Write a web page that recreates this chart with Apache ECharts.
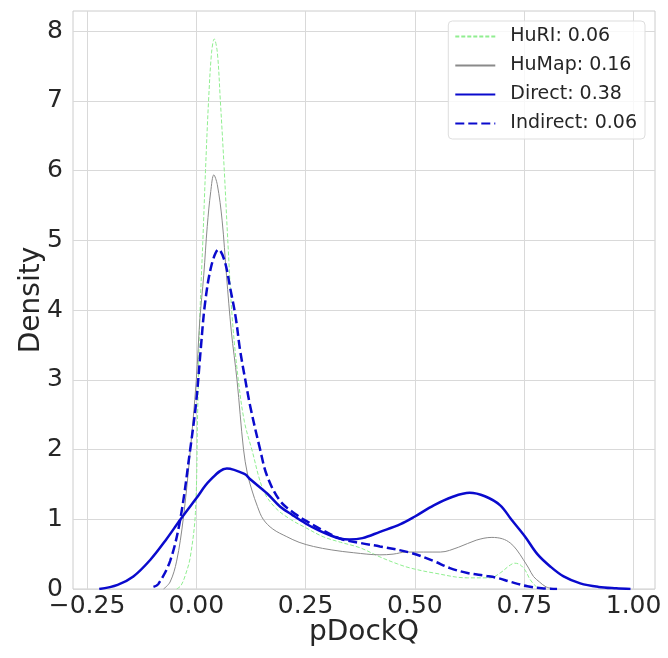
<!DOCTYPE html>
<html>
<head>
<meta charset="utf-8">
<script src="https://cdn.jsdelivr.net/npm/echarts@6/dist/echarts.min.js"></script>
<style>
  html, body { margin: 0; padding: 0; background: #fff; }
  #chart { width: 668px; height: 658px; }
</style>
</head>
<body>
<div id="chart"></div>
<script>
// KDE curves: x positions and density values
const huriX = [-0.045, -0.035, -0.025, -0.014, -0.002, 0.003, 0.008, 0.015, 0.021, 0.028, 0.035, 0.041, 0.048, 0.055, 0.064, 0.072, 0.082, 0.096, 0.11, 0.127, 0.153, 0.18, 0.215, 0.25, 0.29, 0.33, 0.375, 0.42, 0.46, 0.49, 0.543, 0.62, 0.672, 0.695, 0.715, 0.728, 0.74, 0.752, 0.764, 0.78, 0.79];
const huriY = [0, 0.05, 0.2, 0.45, 1.1, 2.5, 3.9, 5.0, 6.0, 7.0, 7.7, 7.89, 7.7, 7.0, 6.0, 5.0, 3.9, 3.0, 2.4, 2.0, 1.42, 1.17, 1.0, 0.88, 0.75, 0.67, 0.59, 0.46, 0.36, 0.3, 0.23, 0.16, 0.16, 0.23, 0.33, 0.37, 0.35, 0.27, 0.13, 0.02, 0];

const humapX = [-0.075, -0.06, -0.045, -0.03, -0.015, 0.0, 0.008, 0.017, 0.025, 0.033, 0.04, 0.048, 0.059, 0.069, 0.08, 0.093, 0.108, 0.117, 0.127, 0.14, 0.153, 0.175, 0.207, 0.235, 0.268, 0.31, 0.36, 0.42, 0.45, 0.48, 0.52, 0.558, 0.6, 0.64, 0.676, 0.7, 0.718, 0.733, 0.748, 0.76, 0.771, 0.785, 0.8, 0.82];
const humapY = [0, 0.1, 0.4, 1.0, 1.9, 3.0, 3.86, 4.5, 5.2, 5.7, 5.94, 5.8, 5.29, 4.5, 3.7, 3.0, 2.0, 1.65, 1.42, 1.18, 1.0, 0.86, 0.75, 0.67, 0.61, 0.56, 0.52, 0.49, 0.5, 0.53, 0.53, 0.53, 0.6, 0.7, 0.74, 0.72, 0.66, 0.56, 0.42, 0.3, 0.18, 0.1, 0.03, 0];

const directX = [-0.222, -0.18, -0.144, -0.105, -0.07, -0.036, 0.0, 0.03, 0.07, 0.11, 0.124, 0.162, 0.192, 0.22, 0.25, 0.28, 0.306, 0.33, 0.35, 0.38, 0.42, 0.467, 0.5, 0.543, 0.585, 0.625, 0.66, 0.695, 0.72, 0.752, 0.78, 0.81, 0.84, 0.878, 0.92, 0.96, 0.993];
const directY = [0, 0.06, 0.18, 0.42, 0.7, 1.0, 1.3, 1.55, 1.73, 1.65, 1.57, 1.37, 1.18, 1.06, 0.94, 0.84, 0.77, 0.72, 0.71, 0.73, 0.82, 0.93, 1.04, 1.2, 1.32, 1.38, 1.33, 1.2, 1.0, 0.75, 0.5, 0.32, 0.18, 0.08, 0.03, 0.01, 0];

const indirectX = [-0.098, -0.087, -0.06, -0.037, -0.014, 0.0, 0.01, 0.02, 0.035, 0.051, 0.065, 0.078, 0.09, 0.1, 0.112, 0.124, 0.146, 0.162, 0.192, 0.23, 0.25, 0.284, 0.33, 0.375, 0.42, 0.49, 0.543, 0.58, 0.62, 0.66, 0.688, 0.72, 0.757, 0.79, 0.825];
const indirectY = [0.03, 0.07, 0.4, 0.99, 2.0, 2.7, 3.43, 4.1, 4.65, 4.87, 4.7, 4.3, 3.9, 3.43, 3.0, 2.6, 2.0, 1.62, 1.26, 1.06, 0.98, 0.86, 0.72, 0.66, 0.61, 0.52, 0.4, 0.3, 0.23, 0.19, 0.16, 0.1, 0.04, 0.01, 0];

const seriesNames = ["HuRI: 0.06", "HuMap: 0.16", "Direct: 0.38", "Indirect: 0.06"];
const xTicks = [-0.25, 0, 0.25, 0.5, 0.75, 1.0];
const yTicks = [0, 1, 2, 3, 4, 5, 6, 7, 8];

const pairs = (xs, ys) => xs.map((x, i) => [x, ys[i]]);

const chart = echarts.init(document.getElementById("chart"));
const font = "DejaVu Sans";
const textColor = "#262626";

const options = {
  animation: false,
  textStyle: { fontFamily: font },
  grid: {
    left: 73,
    right: 13,
    top: 11,
    bottom: 69,
    show: true,
    borderColor: "#cccccc",
    borderWidth: 1,
  },
  legend: {
    orient: "vertical",
    right: 23,
    top: 21,
    padding: [6, 8, 6, 6],
    itemWidth: 40,
    itemHeight: 14,
    itemGap: 10,
    itemStyle: { opacity: 0 },
    backgroundColor: "rgba(255,255,255,0.8)",
    borderColor: "#dddddd",
    borderWidth: 1,
    borderRadius: 4,
    textStyle: { fontFamily: font, fontSize: 19, color: textColor, padding: [0, 0, 0, 10], lineHeight: 14 },
    data: seriesNames,
  },
  xAxis: {
    type: "value",
    min: -0.282,
    max: 1.049,
    name: "pDockQ",
    nameLocation: "middle",
    nameGap: 30,
    nameMoveOverlap: false,
    nameTextStyle: { fontFamily: font, fontSize: 28, color: textColor },
    axisLine: { show: false },
    axisTick: { show: false, customValues: xTicks },
    axisLabel: {
      customValues: xTicks,
      fontFamily: font,
      fontSize: 25,
      color: textColor,
      margin: 5,
      formatter: (v) => v.toFixed(2).replace("-", "\u2212"),
    },
    splitLine: { show: true, lineStyle: { color: "#d9d9d9", width: 1 } },
  },
  yAxis: {
    type: "value",
    min: 0,
    max: 8.29,
    name: "Density",
    nameLocation: "middle",
    nameGap: 27,
    nameMoveOverlap: false,
    nameTextStyle: { fontFamily: font, fontSize: 28, color: textColor },
    axisLine: { show: false },
    axisTick: { show: false, customValues: yTicks },
    axisLabel: {
      customValues: yTicks,
      fontFamily: font,
      fontSize: 25,
      color: textColor,
      margin: 10,
    },
    splitLine: { show: true, lineStyle: { color: "#d9d9d9", width: 1 } },
  },
  series: [
    {
      name: seriesNames[0],
      type: "line",
      data: pairs(huriX, huriY),
      showSymbol: false,
      symbol: "none",
      smooth: 0.35,
      lineStyle: { color: "#90ee90", width: 1, type: [4, 2] },
      itemStyle: { color: "#90ee90" },
      z: 2,
    },
    {
      name: seriesNames[1],
      type: "line",
      data: pairs(humapX, humapY),
      showSymbol: false,
      symbol: "none",
      smooth: 0.35,
      lineStyle: { color: "#8a8a8a", width: 1 },
      itemStyle: { color: "#8a8a8a" },
      z: 3,
    },
    {
      name: seriesNames[2],
      type: "line",
      data: pairs(directX, directY),
      showSymbol: false,
      symbol: "none",
      smooth: 0.35,
      lineStyle: { color: "#0a0acd", width: 2.5 },
      itemStyle: { color: "#0a0acd" },
      z: 4,
    },
    {
      name: seriesNames[3],
      type: "line",
      data: pairs(indirectX, indirectY),
      showSymbol: false,
      symbol: "none",
      smooth: 0.35,
      lineStyle: { color: "#0a0acd", width: 2.5, type: [9, 4] },
      itemStyle: { color: "#0a0acd" },
      z: 5,
    },
  ],
};

chart.setOption(options);
</script>
</body>
</html>
